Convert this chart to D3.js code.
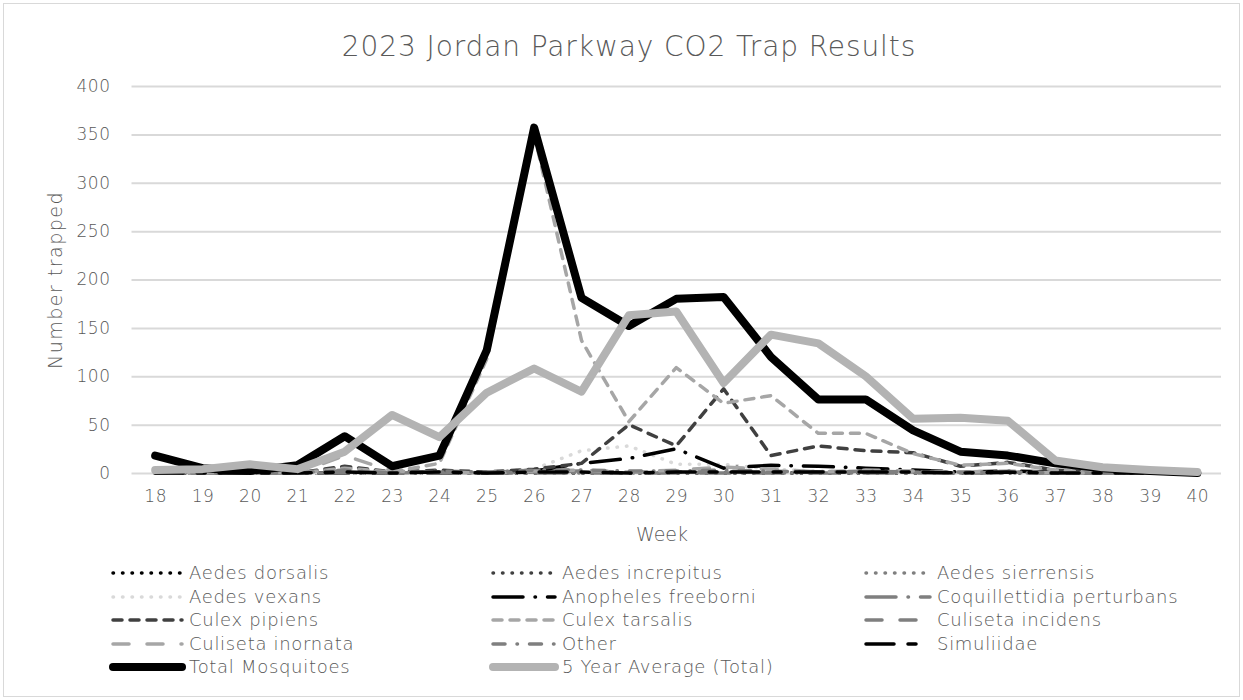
<!DOCTYPE html>
<html>
<head>
<meta charset="utf-8">
<script src="https://cdn.jsdelivr.net/npm/d3@7"></script>
<style>
  html, body { margin: 0; padding: 0; background: #fff; }
  svg text { font-family: "DejaVu Sans", sans-serif; font-weight: 200; fill: #595959; }
</style>
</head>
<body>
<svg id="chart" width="1243" height="700"></svg>
<script>
const weeks = [18,19,20,21,22,23,24,25,26,27,28,29,30,31,32,33,34,35,36,37,38,39,40];
const yTicks = [0,50,100,150,200,250,300,350,400];

const aedesDorsalis      = [0,0,0,0,0,0,0,0,0,0,0,0,0,0,0,0,0,0,0,0,0,0,0];
const aedesIncrepitus    = [0,0,0,0,0,0,0,0,0,0,0,0,0,0,0,0,0,0,0,0,0,0,0];
const aedesSierrensis    = [0,0,0,0,0,0,0,0,0,0,0,0,0,0,0,0,0,0,0,0,0,0,0];
const aedesVexans        = [0,0,0,0,0,0,0,1,4,23,28,9,9,4,2,1,1,0,0,0,0,0,0];
const anophelesFreeborni = [0,0,0,0,0,0,0,0,2,10,15,25,5,8,7,5,3,1,2,1,0,0,0];
const coquillettidia     = [0,0,0,0,0,0,0,0,0,0,0,0,0,0,0,0,0,0,0,0,0,0,0];
const culexPipiens       = [0,0,0,0,7,1,3,1,4,10,50,28,87,18,28,23,21,7,11,3,1,0,0];
const culexTarsalis      = [0,0,0,0,5,1,10,118,350,137,53,109,72,80,41,41,20,8,10,3,1,0,0];
const culisetaIncidens   = [0,0,0,0,2,0,1,0,1,2,1,1,2,1,1,1,1,0,1,0,0,0,0];
const culisetaInornata   = [0,0,0,0,18,2,1,0,2,3,1,3,6,4,1,3,2,1,2,0,0,0,0];
const other              = [0,0,0,0,3,0,2,1,3,3,2,2,3,2,1,2,1,1,1,0,0,0,0];
const simuliidae         = [0,0,0,0,1,0,1,0,1,1,0,1,1,1,1,1,1,0,1,0,0,0,0];
const totalMosquitoes    = [18,5,2,8,38,7,18,127,357,181,152,180,182,120,76,76,44,22,18,10,5,2,0];
const fiveYearAverage    = [3,4,9,4,22,60,37,83,108,84,163,167,93,143,134,100,56,57,54,13,6,3,1];

const series = [
  {name:"Aedes dorsalis", values:aedesDorsalis, color:"#000000", w:3.5, dash:"0.5 9"},
  {name:"Aedes increpitus", values:aedesIncrepitus, color:"#404040", w:3.5, dash:"0.5 9"},
  {name:"Aedes sierrensis", values:aedesSierrensis, color:"#7f7f7f", w:3.5, dash:"0.5 9"},
  {name:"Aedes vexans", values:aedesVexans, color:"#d9d9d9", w:3.5, dash:"0.5 9"},
  {name:"Anopheles freeborni", values:anophelesFreeborni, color:"#000000", w:3.5, dash:"30 12 0.5 12"},
  {name:"Coquillettidia perturbans", values:coquillettidia, color:"#7f7f7f", w:3.5, dash:"30 12 0.5 12"},
  {name:"Culex pipiens", values:culexPipiens, color:"#404040", w:3.5, dash:"9 8"},
  {name:"Culex tarsalis", values:culexTarsalis, color:"#a6a6a6", w:3.5, dash:"9 8"},
  {name:"Culiseta incidens", values:culisetaIncidens, color:"#7f7f7f", w:3.5, dash:"16 18"},
  {name:"Culiseta inornata", values:culisetaInornata, color:"#a6a6a6", w:3.5, dash:"16 18"},
  {name:"Other", values:other, color:"#7f7f7f", w:3.5, dash:"12 12 0.5 12"},
  {name:"Simuliidae", values:simuliidae, color:"#000000", w:3.5, dash:"28 14 8 14"},
  {name:"Total Mosquitoes", values:totalMosquitoes, color:"#000000", w:8, dash:null},
  {name:"5 Year Average (Total)", values:fiveYearAverage, color:"#b3b3b3", w:8, dash:null}
];

(function draw() {
const svg = d3.select("#chart");

svg.append("rect").attr("x",3.5).attr("y",3.5).attr("width",1236).attr("height",693)
  .attr("fill","#fff").attr("stroke","#d9d9d9").attr("stroke-width",1);

const pL = 131.5, pR = 1221, pT = 86, pB = 473;

const x = d3.scalePoint().domain(weeks).range([pL, pR]).padding(0.5);
const y = d3.scaleLinear().domain([0,400]).range([pB, pT]);

const grid = svg.append("g")
  .attr("transform",`translate(${pL},0)`)
  .call(d3.axisLeft(y).tickValues(yTicks).tickSize(-(pR-pL)).tickFormat(""));
grid.select(".domain").remove();
grid.selectAll("line").attr("stroke","#d9d9d9").attr("stroke-width",2);

const yAxis = svg.append("g").attr("transform",`translate(${pL},0)`)
  .call(d3.axisLeft(y).tickValues(yTicks).tickSize(0).tickPadding(21));
yAxis.select(".domain").remove();
yAxis.selectAll("text").style("font-size","17px").style("letter-spacing","0.5px").attr("fill","#595959");

const xAxis = svg.append("g").attr("transform",`translate(0,${pB})`)
  .call(d3.axisBottom(x).tickSize(0).tickPadding(17));
xAxis.select(".domain").remove();
xAxis.selectAll("text").style("font-size","17px").style("letter-spacing","0.5px").attr("fill","#595959");

const line = d3.line().x((d,i)=>x(weeks[i])).y(d=>y(d));
const g = svg.append("g");
series.forEach(s => {
  g.append("path").datum(s.values)
    .attr("d", line)
    .attr("fill","none")
    .attr("stroke", s.color)
    .attr("stroke-width", s.w)
    .attr("stroke-linecap","round")
    .attr("stroke-linejoin","round")
    .attr("stroke-dasharray", s.dash);
});

svg.append("text").attr("x",629).attr("y",56).attr("text-anchor","middle")
  .style("font-size","28px").style("letter-spacing","0.9px")
  .text("2023 Jordan Parkway CO2 Trap Results");

svg.append("text").attr("x",662).attr("y",541).attr("text-anchor","middle")
  .style("font-size","19px").text("Week");
svg.append("text").attr("transform","translate(62,280) rotate(-90)").attr("text-anchor","middle")
  .style("font-size","19px").style("letter-spacing","1.5px").text("Number trapped");

const colX = [113, 493, 866];
const sampleLen = [69, 62, 64];
const rowY = [573, 597, 620, 644, 667];
const leg = svg.append("g");
series.forEach((s,i) => {
  let c, r;
  if (i < 12) { c = i % 3; r = Math.floor(i/3); }
  else { c = i - 12; r = 4; }
  const x0 = colX[c], yy = rowY[r];
  leg.append("line").attr("x1",x0).attr("x2",x0+sampleLen[c]).attr("y1",yy).attr("y2",yy)
    .attr("stroke",s.color).attr("stroke-width",s.w)
    .attr("stroke-linecap","round").attr("stroke-dasharray",s.dash);
  leg.append("text").attr("x",x0+sampleLen[c]+7).attr("y",yy+6)
    .style("font-size","18px").style("letter-spacing","0.7px").text(s.name);
});
})();
</script>
</body>
</html>
